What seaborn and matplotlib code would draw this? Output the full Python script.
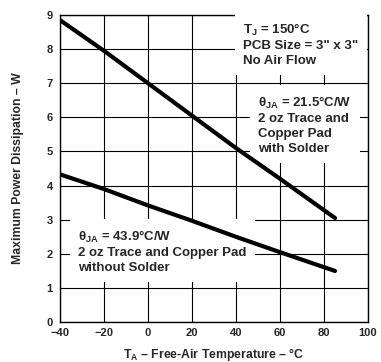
import numpy as np
import pandas as pd
import matplotlib
matplotlib.use("Agg")
import matplotlib.pyplot as plt
import seaborn as sns

sns.set_theme(style="white")
plt.rcParams["font.family"] = ["Liberation Sans", "DejaVu Sans"]
plt.rcParams["mathtext.fontset"] = "custom"
plt.rcParams["mathtext.rm"] = "Liberation Sans:bold"
plt.rcParams["mathtext.it"] = "Liberation Sans:bold"
plt.rcParams["mathtext.default"] = "regular"

### Data
temp = [-40, -20, 0, 20, 40, 60, 85]
pd_with_solder = [8.85, 7.95, 7.0, 6.05, 5.1, 4.2, 3.05]
pd_without_solder = [4.33, 3.9, 3.42, 2.97, 2.5, 2.05, 1.5]
x_ticks = [-40, -20, 0, 20, 40, 60, 80, 100]
y_ticks = [0, 1, 2, 3, 4, 5, 6, 7, 8, 9]

df = pd.DataFrame({
    "T": temp * 2,
    "P": pd_with_solder + pd_without_solder,
    "case": ["with"] * len(temp) + ["without"] * len(temp),
})

fig = plt.figure(figsize=(3.81, 3.62), dpi=100)
ax = fig.add_axes([0.157, 0.110, 0.809, 0.849])

sns.lineplot(data=df, x="T", y="P", units="case", estimator=None,
             color="black", linewidth=3.0, ax=ax, zorder=5)

ax.set_xlim(-40, 100)
ax.set_ylim(0, 9)
ax.set_xticks(x_ticks)
ax.set_xticklabels(["\u221240", "\u221220", "0", "20", "40", "60", "80", "100"])
ax.set_yticks(y_ticks)
ax.grid(True, color="black", linewidth=0.8)
ax.set_axisbelow(True)
for s in ax.spines.values():
    s.set_color("black")
    s.set_linewidth(1.0)
ax.tick_params(axis="x", length=0, pad=4, labelsize=8)
ax.tick_params(axis="y", length=0, pad=5, labelsize=8)
for lab in ax.get_xticklabels() + ax.get_yticklabels():
    lab.set_fontweight("bold")

ax.set_xlabel("T$_A$ \u2013 Free-Air Temperature \u2013 \u00b0C", fontsize=8.8,
              fontweight="bold", labelpad=6)
ax.set_ylabel("Maximum Power Dissipation \u2013 W", fontsize=8.8,
              fontweight="bold", labelpad=16)

box = dict(facecolor="white", edgecolor="none", pad=6)
ax.text(43.2, 8.8, "T$_J$ = 150\u00b0C\nPCB Size = 3\" x 3\"\nNo Air Flow",
        fontsize=9.5, fontweight="bold", va="top", ha="left", bbox=box,
        linespacing=1.3, zorder=4)
ax.text(50, 6.67, "\u03b8$_{JA}$ = 21.5\u00b0C/W\n2 oz Trace and\nCopper Pad\nwith Solder",
        fontsize=9.5, fontweight="bold", va="top", ha="left", bbox=box,
        linespacing=1.3, zorder=4)
ax.text(-31.8, 2.74, "\u03b8$_{JA}$ = 43.9\u00b0C/W\n2 oz Trace and Copper Pad\nwithout Solder",
        fontsize=9.5, fontweight="bold", va="top", ha="left", bbox=box,
        linespacing=1.3, zorder=4)

fig.savefig("out.png", dpi=100)
